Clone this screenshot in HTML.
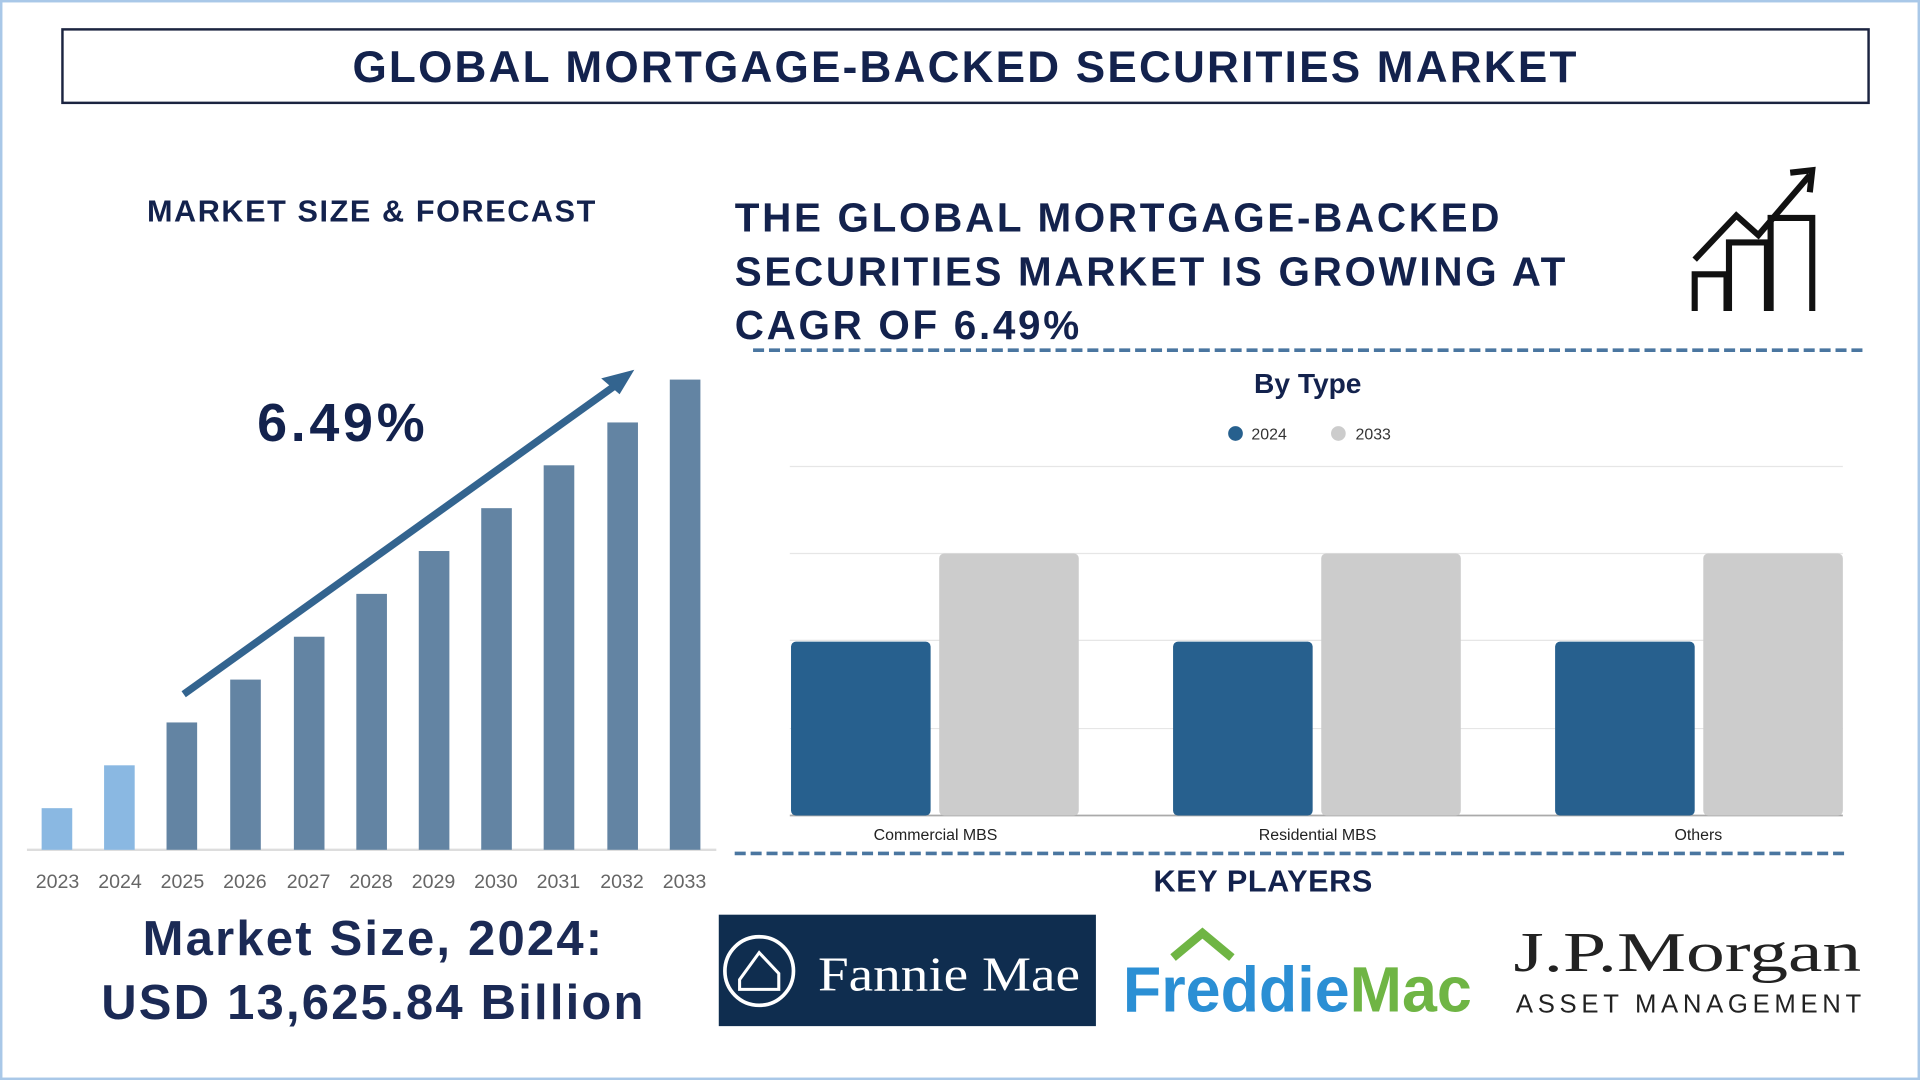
<!DOCTYPE html>
<html><head><meta charset="utf-8"><style>
html,body{margin:0;padding:0;background:#fff;overflow:hidden}
#s{width:1568px;height:882px;position:relative;transform:scale(1.22449);transform-origin:0 0;font-family:"Liberation Sans","DejaVu Sans",sans-serif;background:#fff}
.a{position:absolute}
.t{color:#13224d;font-weight:bold}
</style></head><body><div id="s">
<div class="a" style="left:0;top:0;width:1564px;height:878px;border:2px solid #a9c8e8"></div>
<div class="a" style="left:50px;top:23px;width:1473px;height:58px;border:2px solid #1b2440"></div>
<div class="a t" style="left:50px;top:34px;width:1477px;text-align:center;font-size:36px;letter-spacing:1.8px">GLOBAL MORTGAGE-BACKED SECURITIES MARKET</div>
<div class="a t" style="left:120px;top:159px;font-size:25px;letter-spacing:1.3px">MARKET SIZE &amp; FORECAST</div>
<div class="a t" style="left:210px;top:321px;font-size:44px;letter-spacing:3px">6.49%</div>
<div class="a t" style="left:600px;top:156px;font-size:33px;line-height:44px;letter-spacing:2.2px">THE GLOBAL MORTGAGE-BACKED<br>SECURITIES MARKET IS GROWING AT<br>CAGR OF 6.49%</div>
<svg class="a" style="left:0;top:0" width="1568" height="882">
<g fill="none" stroke="#111" stroke-width="5">
<path d="M1384 254V224H1410V254M1412 254V198H1443V254M1446 254V178H1480V254"/>
<path d="M1384 212L1418 176L1436 192L1478 143"/>
<path d="M1462 141L1480 139L1478 157"/>
</g>
<line x1="615" y1="286" x2="1522" y2="286" stroke="#4a76a0" stroke-width="3" stroke-dasharray="9,4"/>
<line x1="600" y1="697" x2="1508" y2="697" stroke="#4a76a0" stroke-width="3" stroke-dasharray="9,4"/>
<line x1="22" y1="694" x2="585" y2="694" stroke="#ddd" stroke-width="2"/>
<g fill="#6384a3">
<rect x="34" y="660" width="25" height="34" fill="#8ab8e2"/>
<rect x="85" y="625" width="25" height="69" fill="#8ab8e2"/>
<rect x="136" y="590" width="25" height="104"/>
<rect x="188" y="555" width="25" height="139"/>
<rect x="240" y="520" width="25" height="174"/>
<rect x="291" y="485" width="25" height="209"/>
<rect x="342" y="450" width="25" height="244"/>
<rect x="393" y="415" width="25" height="279"/>
<rect x="444" y="380" width="25" height="314"/>
<rect x="496" y="345" width="25" height="349"/>
<rect x="547" y="310" width="25" height="384"/>
</g>
<line x1="150" y1="567" x2="505" y2="313" stroke="#33648f" stroke-width="6"/>
<path d="M518 302L491 309L506 322Z" fill="#33648f"/>
<g font-size="16" fill="#666" text-anchor="middle">
<text x="47" y="725">2023</text><text x="98" y="725">2024</text><text x="149" y="725">2025</text><text x="200" y="725">2026</text><text x="252" y="725">2027</text><text x="303" y="725">2028</text><text x="354" y="725">2029</text><text x="405" y="725">2030</text><text x="456" y="725">2031</text><text x="508" y="725">2032</text><text x="559" y="725">2033</text>
</g>
<g stroke="#e6e6e6" stroke-width="1"><line x1="645" y1="381" x2="1505" y2="381"/><line x1="645" y1="452" x2="1505" y2="452"/><line x1="645" y1="523" x2="1505" y2="523"/><line x1="645" y1="595" x2="1505" y2="595"/></g>
<line x1="645" y1="666" x2="1505" y2="666" stroke="#aaa" stroke-width="1.5"/>
<g>
<rect x="646" y="524" width="114" height="142" rx="4" fill="#27608e"/>
<rect x="767" y="452" width="114" height="214" rx="4" fill="#cccccc"/>
<rect x="958" y="524" width="114" height="142" rx="4" fill="#27608e"/>
<rect x="1079" y="452" width="114" height="214" rx="4" fill="#cccccc"/>
<rect x="1270" y="524" width="114" height="142" rx="4" fill="#27608e"/>
<rect x="1391" y="452" width="114" height="214" rx="4" fill="#cccccc"/>
</g>
<g font-size="13" fill="#222" text-anchor="middle"><text x="764" y="686">Commercial MBS</text><text x="1076" y="686">Residential MBS</text><text x="1387" y="686">Others</text></g>
<text x="1068" y="321" font-size="23" font-weight="bold" fill="#13224d" text-anchor="middle">By Type</text>
<circle cx="1009" cy="354" r="6" fill="#27608e"/><text x="1022" y="359" font-size="13" fill="#333">2024</text>
<circle cx="1093" cy="354" r="6" fill="#cccccc"/><text x="1107" y="359" font-size="13" fill="#333">2033</text>
<rect x="587" y="747" width="308" height="91" fill="#0f2d4f"/>
<circle cx="620" cy="793" r="28" fill="none" stroke="#fff" stroke-width="3"/>
<path d="M604 800L620 778L636 795V808H604Z" fill="none" stroke="#fff" stroke-width="2.5"/>
<text x="668" y="809" font-family="Liberation Serif,serif" font-size="40" fill="#fff" textLength="214" lengthAdjust="spacingAndGlyphs">Fannie Mae</text>
<path d="M958 782L982 762L1006 782" fill="none" stroke="#6fb544" stroke-width="7"/>
<text x="917" y="826" font-size="52" font-weight="bold" fill="#2b8fd4" textLength="285" lengthAdjust="spacingAndGlyphs">Freddie<tspan fill="#6fb544">Mac</tspan></text>
<text x="1236" y="793" font-family="Liberation Serif,serif" font-size="46" fill="#222" textLength="284" lengthAdjust="spacingAndGlyphs">J.P.Morgan</text>
<text x="1238" y="827" font-size="21" fill="#222" textLength="282">ASSET MANAGEMENT</text>
</svg>
<div class="a t" style="left:942px;top:706px;font-size:25px;letter-spacing:0.5px">KEY PLAYERS</div>
<div class="a t" style="left:20px;top:741px;width:570px;text-align:center;font-size:40px;line-height:52px;color:#1b2a55;letter-spacing:1.8px">Market Size, 2024:<br>USD 13,625.84 Billion</div>
</div></body></html>
